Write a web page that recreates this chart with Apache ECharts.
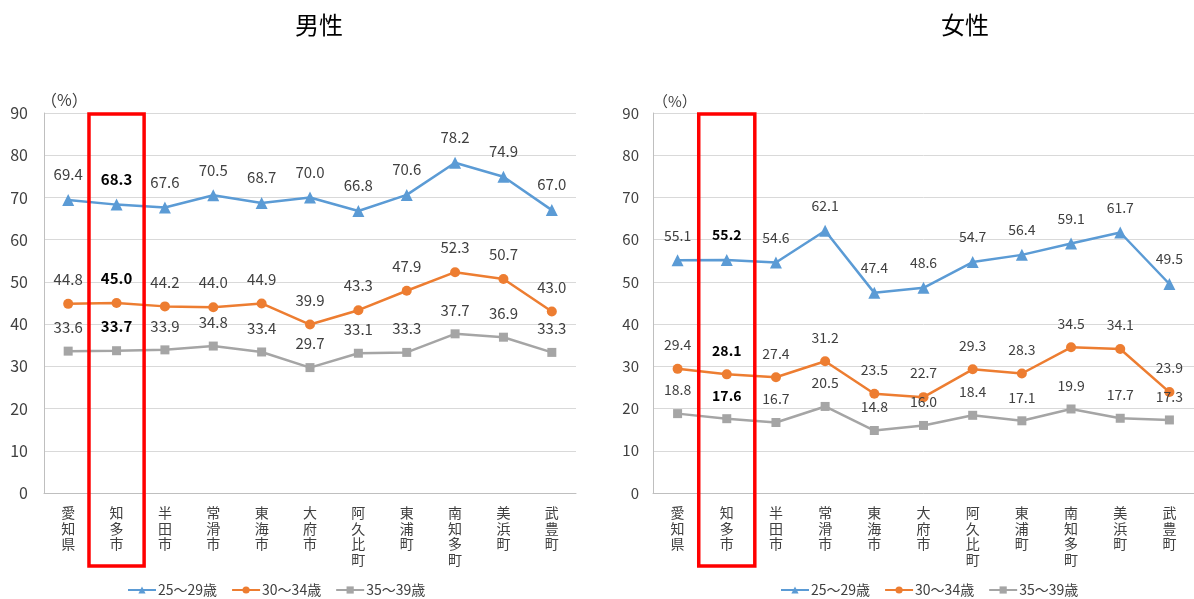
<!DOCTYPE html>
<html>
<head>
<meta charset="utf-8">
<script src="https://cdn.jsdelivr.net/npm/echarts@6/dist/echarts.min.js"></script>
<style>
html,body{margin:0;padding:0;background:#fff;}
#main{width:1194px;height:599px;}
</style>
</head>
<body>
<div id="main"></div>
<script>
var cities = ['愛知県','知多市','半田市','常滑市','東海市','大府市','阿久比町','東浦町','南知多町','美浜町','武豊町'];
var seriesNames = ['25〜29歳','30〜34歳','35〜39歳'];
var yTicks = [0, 10, 20, 30, 40, 50, 60, 70, 80, 90];

// 男性
var male25 = [69.4, 68.3, 67.6, 70.5, 68.7, 70.0, 66.8, 70.6, 78.2, 74.9, 67.0];
var male30 = [44.8, 45.0, 44.2, 44.0, 44.9, 39.9, 43.3, 47.9, 52.3, 50.7, 43.0];
var male35 = [33.6, 33.7, 33.9, 34.8, 33.4, 29.7, 33.1, 33.3, 37.7, 36.9, 33.3];
// 女性
var female25 = [55.1, 55.2, 54.6, 62.1, 47.4, 48.6, 54.7, 56.4, 59.1, 61.7, 49.5];
var female30 = [29.4, 28.1, 27.4, 31.2, 23.5, 22.7, 29.3, 28.3, 34.5, 34.1, 23.9];
var female35 = [18.8, 17.6, 16.7, 20.5, 14.8, 16.0, 18.4, 17.1, 19.9, 17.7, 17.3];

var highlight = '知多市';
var colors = ['#5B9BD5', '#ED7D31', '#A5A5A5'];
var symbols = ['triangle', 'circle', 'rect'];
var symbolSizes = [12, 10, 9];
var font = '"Noto Sans CJK JP", "Noto Sans", sans-serif';

var myChart = echarts.init(document.getElementById('main'));

function makeData(vals){
    return vals.map(function(v, i){
        if (cities[i] === highlight) {
            return {value: v, label: {fontWeight: 'bold', color: '#000'}};
        }
        return v;
    });
}

function makeSeries(idx, vals, axis, fs){
    return {
        name: seriesNames[idx],
        type: 'line',
        xAxisIndex: axis,
        yAxisIndex: axis,
        data: makeData(vals),
        symbol: symbols[idx],
        symbolSize: symbolSizes[idx],
        lineStyle: {color: colors[idx], width: 2.5},
        itemStyle: {color: colors[idx]},
        label: {
            show: true,
            position: 'top',
            distance: 12,
            color: '#404040',
            fontSize: fs,
            fontFamily: font,
            formatter: function(p){ return p.value.toFixed(1); }
        },
        emphasis: {disabled: true}
    };
}

function xAxisOpt(grid, fs){
    return {
        type: 'category',
        gridIndex: grid,
        data: cities,
        boundaryGap: true,
        axisLine: {lineStyle: {color: '#BFBFBF'}},
        axisTick: {show: false},
        axisLabel: {
            interval: 0,
            color: '#404040',
            fontSize: fs,
            fontFamily: font,
            lineHeight: 15.5,
            margin: 12,
            verticalAlign: 'top',
            formatter: function(v){ return v.split('').join('\n'); }
        }
    };
}

function yAxisOpt(grid, fs, margin){
    return {
        type: 'value',
        gridIndex: grid,
        min: yTicks[0],
        max: yTicks[yTicks.length - 1],
        interval: 10,
        axisLine: {show: true, lineStyle: {color: '#BFBFBF'}},
        axisTick: {show: false},
        splitLine: {lineStyle: {color: '#D9D9D9'}},
        axisLabel: {color: '#404040', fontSize: fs, fontFamily: font, margin: margin}
    };
}

function legendOpt(left){
    return {
        data: seriesNames,
        left: left,
        top: 583,
        padding: 0,
        itemWidth: 28,
        itemHeight: 9,
        itemGap: 14,
        selectedMode: false,
        textStyle: {color: '#404040', fontSize: 14, fontFamily: font, padding: [0, 0, 0, -3]}
    };
}

var option = {
    animation: false,
    textStyle: {fontFamily: font},
    title: [
        {text: '男性', left: 314, top: 8, textAlign: 'center',
         textStyle: {fontSize: 24, fontWeight: 'normal', color: '#000', fontFamily: font}},
        {text: '女性', left: 960, top: 8, textAlign: 'center',
         textStyle: {fontSize: 24, fontWeight: 'normal', color: '#000', fontFamily: font}},
        {text: '（%）', left: 36, top: 87,
         textStyle: {fontSize: 16, fontWeight: 'normal', color: '#404040', fontFamily: font}},
        {text: '（%）', left: 648, top: 89,
         textStyle: {fontSize: 15, fontWeight: 'normal', color: '#404040', fontFamily: font}}
    ],
    legend: [legendOpt(127), legendOpt(780)],
    grid: [
        {left: 44, top: 113, width: 532, height: 380},
        {left: 653, top: 113, width: 543, height: 380}
    ],
    xAxis: [xAxisOpt(0, 14), xAxisOpt(1, 14)],
    yAxis: [yAxisOpt(0, 16, 16), yAxisOpt(1, 15, 14)],
    series: [
        makeSeries(0, male25, 0, 15),
        makeSeries(1, male30, 0, 15),
        makeSeries(2, male35, 0, 15),
        makeSeries(0, female25, 1, 14),
        makeSeries(1, female30, 1, 14),
        makeSeries(2, female35, 1, 14)
    ]
};
myChart.setOption(option);

// red box around the highlighted city, placed from the axes
function boxFor(axis){
    var cx = myChart.convertToPixel({xAxisIndex: axis}, highlight);
    var next = myChart.convertToPixel({xAxisIndex: axis}, cities[2]);
    var half = (next - cx) * 0.57;
    var top = myChart.convertToPixel({yAxisIndex: axis}, yTicks[yTicks.length - 1]);
    return {
        type: 'rect',
        shape: {x: cx - half, y: top + 1, width: half * 2, height: 566 - top - 1},
        style: {fill: 'none', stroke: '#FF0000', lineWidth: 3.5},
        z: 100
    };
}
myChart.setOption({graphic: [boxFor(0), boxFor(1)]});
</script>
</body>
</html>
